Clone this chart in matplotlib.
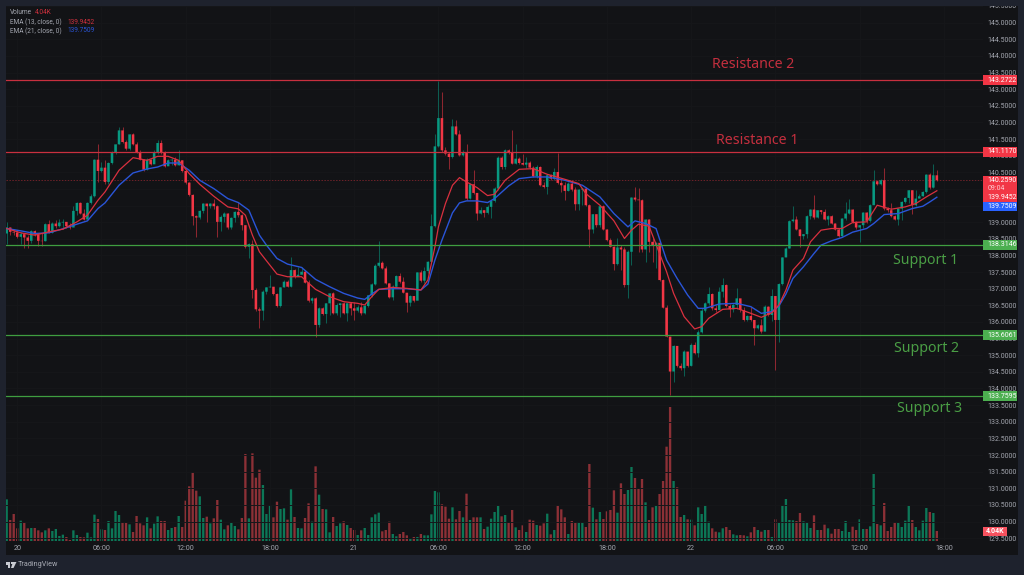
import numpy as np
import matplotlib
matplotlib.use('Agg')
import matplotlib.pyplot as plt
from matplotlib.patches import Rectangle, Polygon
from matplotlib.transforms import blended_transform_factory

W, H = 1024, 575

# 15 minute candles
close = [
    138.84,138.71,138.69,138.56,138.64,138.54,138.44,138.73,138.63,138.44,
    138.43,138.94,138.68,138.96,138.88,138.99,139.01,138.88,138.84,139.34,
    139.58,139.26,139.08,139.58,139.78,140.88,140.54,140.64,140.21,140.78,
    141.11,141.34,141.76,141.41,141.21,141.64,141.34,141.11,140.88,140.58,
    140.88,140.74,141.08,141.38,141.11,140.68,140.86,140.88,140.71,140.86,
    140.54,140.19,139.82,139.18,139.14,139.34,139.56,139.48,139.56,139.48,
    139.01,139.16,139.26,138.84,139.13,139.31,139.21,138.91,138.26,138.34,
    136.96,136.38,136.34,136.91,137.04,137.06,136.84,136.48,137.04,137.21,
    137.06,137.56,137.36,137.42,137.51,137.18,136.64,136.71,135.91,136.41,
    136.24,136.56,136.86,136.26,136.51,136.56,136.26,136.56,136.41,136.34,
    136.44,136.26,136.48,136.80,137.13,137.69,137.78,137.61,137.16,136.74,
    137.06,137.38,137.21,136.88,136.58,136.78,136.64,137.49,137.24,137.53,
    137.81,138.88,141.28,142.13,141.16,141.06,140.96,141.88,141.64,141.01,
    141.11,139.71,140.14,139.88,139.26,139.36,139.28,139.46,139.64,140.01,
    140.94,140.66,141.16,141.08,140.76,140.91,140.78,140.73,140.79,140.64,
    140.38,140.66,140.11,140.06,140.41,140.31,140.51,140.18,140.11,139.94,
    140.16,139.98,139.54,139.98,140.01,139.51,138.78,139.24,138.91,139.48,
    138.78,138.46,138.26,137.74,138.24,138.18,137.11,138.11,139.74,139.68,
    139.66,138.18,139.08,138.41,138.31,138.38,137.26,136.43,135.56,134.51,
    135.28,134.68,134.61,135.11,134.68,135.31,135.06,135.69,136.34,136.56,
    136.84,136.41,136.36,136.91,137.11,136.48,136.38,136.51,136.71,136.36,
    136.06,136.18,136.06,135.81,135.90,135.71,136.46,136.21,136.78,136.06,
    137.14,137.94,138.21,139.03,139.08,138.78,138.58,138.64,139.18,139.38,
    139.14,139.36,139.31,139.08,139.18,138.96,138.78,138.58,139.11,139.26,
    139.38,139.01,138.84,138.91,139.29,139.04,139.51,140.23,140.14,140.26,
    139.41,139.36,139.18,139.08,139.41,139.61,139.73,139.96,139.51,139.71,
    139.78,139.91,140.43,140.04,140.41,140.26,
]
high = [
    139.01,138.86,138.81,138.76,138.71,138.64,138.61,138.76,138.76,138.66,
    138.66,138.98,139.06,139.01,139.06,139.11,139.11,139.01,138.98,139.48,
    139.61,139.61,139.41,139.61,139.84,140.91,141.34,140.81,140.88,140.81,
    141.14,141.36,141.86,141.86,141.46,141.66,141.68,141.41,141.18,140.91,
    140.94,140.91,141.16,141.48,141.46,141.14,140.91,140.94,140.96,141.16,
    140.86,140.56,140.21,139.84,139.22,139.36,139.58,139.56,139.58,139.71,
    139.51,139.21,139.31,139.28,139.16,139.34,139.61,139.24,138.91,138.38,
    138.46,137.01,136.44,136.96,137.06,137.41,137.06,136.86,137.06,137.26,
    137.26,137.94,137.58,137.66,137.66,137.56,137.26,136.76,136.76,136.44,
    136.44,136.58,136.88,136.91,136.56,136.58,136.61,136.58,136.61,136.61,
    136.51,136.61,136.54,136.81,137.16,137.74,138.43,137.84,137.68,137.18,
    137.11,137.41,137.46,137.34,136.88,136.81,136.74,137.51,137.56,137.66,
    137.84,139.24,141.66,143.26,142.91,141.26,141.11,142.11,142.06,141.76,
    141.16,141.34,140.18,140.56,139.81,139.46,139.36,139.51,139.68,140.06,
    140.98,140.98,141.21,141.21,141.76,141.36,140.96,141.06,140.96,140.84,
    140.68,140.71,140.68,140.21,140.46,140.46,140.64,141.08,140.26,140.21,
    140.21,140.26,140.06,140.01,140.04,140.06,139.56,139.26,139.26,139.51,
    139.51,138.81,138.51,138.28,138.51,138.31,138.24,138.16,139.76,140.06,
    140.04,139.71,139.11,139.11,138.51,138.41,138.38,137.28,136.51,135.54,
    135.31,135.14,134.76,135.16,134.98,135.36,135.41,135.76,136.41,136.61,
    137.06,136.86,136.51,137.06,137.31,137.14,136.54,136.58,137.01,136.56,
    136.44,136.21,136.46,136.01,135.94,136.08,136.51,136.48,136.98,136.71,
    137.16,137.96,138.26,139.06,139.48,139.18,138.80,138.64,139.21,139.41,
    139.81,139.38,139.38,139.41,139.21,139.21,138.98,138.82,139.14,139.61,
    139.71,139.40,139.04,138.93,139.31,139.31,139.54,140.58,140.26,140.29,
    140.64,139.46,139.58,139.23,139.44,139.64,139.76,139.98,139.98,139.96,
    139.86,139.94,140.44,140.48,140.74,140.58,
]
low = [
    138.34,138.61,138.61,138.51,138.34,138.21,138.21,138.38,138.58,138.28,
    138.28,138.44,138.66,138.66,138.84,138.86,138.81,138.84,138.81,138.88,
    139.21,139.24,139.06,139.11,139.56,139.76,140.21,140.51,140.16,140.16,
    140.76,141.06,141.34,141.38,141.16,141.18,141.31,141.09,140.86,140.54,
    140.56,140.71,140.78,141.06,141.06,140.66,140.71,140.71,140.68,140.71,
    140.51,140.16,139.78,138.91,138.56,139.11,139.28,139.01,139.44,139.41,
    138.56,138.73,139.01,138.81,138.81,139.01,139.16,138.76,138.21,137.91,
    136.71,136.34,135.81,136.06,136.84,137.04,136.81,136.44,136.46,137.04,
    137.04,137.06,137.31,137.38,137.44,137.16,136.61,136.56,135.56,135.86,
    136.21,135.96,136.21,136.24,136.21,136.16,136.24,136.04,136.21,136.06,
    136.31,136.21,136.24,136.46,136.76,137.11,137.66,137.58,137.14,136.71,
    136.66,137.04,137.16,136.86,136.31,136.49,136.61,136.84,137.21,137.16,
    137.48,137.78,138.86,141.26,141.11,141.01,140.61,140.94,141.61,140.98,
    140.98,139.68,139.71,139.84,139.06,139.24,139.16,139.26,139.14,139.61,
    139.98,140.61,140.61,141.06,140.74,140.74,140.76,140.71,140.64,140.61,
    140.36,140.34,140.08,140.04,139.84,140.28,140.26,140.16,139.91,139.68,
    139.94,139.94,139.36,139.38,139.51,139.48,138.26,138.66,138.86,138.86,
    138.76,138.44,138.24,137.56,137.71,137.56,137.06,136.71,137.71,139.64,
    138.11,138.11,137.81,138.11,137.81,137.61,137.24,136.41,135.54,133.81,
    134.21,134.64,134.56,134.38,134.64,134.68,135.04,134.96,135.66,136.31,
    136.51,136.36,136.31,136.46,136.76,136.46,136.16,136.31,136.38,136.31,
    136.04,136.04,136.04,135.31,135.78,135.68,135.98,136.18,136.04,134.56,
    135.41,137.11,137.98,138.21,139.00,138.76,138.26,138.48,138.51,139.11,
    139.11,139.12,139.26,139.06,138.91,138.94,138.76,138.56,138.56,139.06,
    139.24,138.98,138.81,138.41,138.84,138.98,139.01,139.54,140.11,140.11,
    139.38,139.31,139.16,139.06,138.91,139.06,139.58,139.58,139.26,139.48,
    139.78,139.78,139.89,140.01,140.04,140.24,
]
first_open = 138.66

volume_read = [
    125,63,81,38,61,56,38,39,39,32,
    26,32,38,30,36,15,19,12,3,32,
    18,12,11,25,11,79,66,35,33,60,
    38,90,78,54,54,50,27,75,53,47,
    71,38,52,74,60,60,33,39,42,75,
    42,121,164,207,151,134,69,73,53,68,
    123,64,35,47,54,45,35,69,261,68,
    263,190,214,168,81,108,71,118,96,98,
    64,155,72,39,38,69,113,58,224,139,
    96,95,26,72,45,53,59,48,39,33,
    18,32,39,18,71,80,85,29,33,58,
    21,14,21,27,17,6,12,12,21,17,
    17,80,150,146,110,103,67,101,65,90,
    71,142,63,71,71,71,36,43,67,87,
    105,74,78,54,93,41,33,47,27,64,
    61,48,46,53,82,20,33,107,95,71,
    21,60,54,56,56,42,231,100,65,87,
    66,89,93,152,85,173,141,153,222,189,
    156,186,116,63,101,105,141,180,283,402,
    180,161,72,78,65,64,47,101,81,107,
    58,38,28,26,38,42,33,20,17,18,
    17,14,26,42,33,28,33,33,12,65,
    54,107,126,63,62,60,84,59,56,39,
    77,33,33,49,38,22,36,36,30,60,
    27,43,33,65,36,36,44,201,51,47,
    114,30,42,57,54,42,61,105,63,42,
    32,61,99,87,84,30,
]
volume_dir = (
    "GRRRGRRGRR" "RGRGGGGRRG" "GRRGGGRGRG" "GGGRRGRRRR" "GRGGRRGGRG"
    "RRRRRGGRGR" "RGGRGGRRRG" "RRRGGGRRGG" "RGRGGRRGRG" "RGGRGGRGRR"
    "GRGGGGGRRR" "GGRRRGRGRG" "GGGGRRRGRR" "GRGRRGRGGG" "GRGRRGRRGR"
    "RGRRGRGRRR" "GRRGGRRGRG" "RRRRGRRGGR" "RRGRRGRRRR" "GRRGRGRGGG"
    "GRRGGRRGGR" "RGRRGRGRGR" "GGGGGRRGGG" "RGRRGRRRGG" "GRRGGRGGRG"
    "RRRRGGGGRG" "GGGRGR"
)

# EMA lines, (bar, price) pairs
ema13_bar = [0,4,8,12,16,20,23,26,28,32,36,40,43,46,49,52,55,59,63,66,68,70,72,74,77,80,84,88,92,96,
             100,102,104,106,110,114,118,120,122,123,125,127,129,131,134,137,139,142,146,150,154,159,163,165,
             169,173,176,178,180,183,186,188,190,193,196,198,200,204,208,212,215,218,220,222,224,227,229,232,
             235,238,241,245,248,252,256,259,262,265]
ema13_val = [138.81,138.68,138.61,138.71,138.79,139.01,139.21,139.66,139.91,140.56,140.94,140.86,140.98,140.98,140.86,140.46,
             140.14,139.78,139.46,139.40,139.21,138.61,138.11,137.84,137.44,137.36,137.36,136.98,136.76,136.61,
             136.56,136.51,136.76,136.98,137.04,137.01,136.96,137.26,138.26,138.86,139.56,140.11,140.34,140.21,140.04,139.80,139.84,
             140.26,140.59,140.61,140.44,140.29,140.16,139.86,139.51,139.04,138.51,138.76,138.94,138.88,138.06,137.51,136.86,136.16,
             135.79,135.86,136.11,136.38,136.41,136.26,136.14,136.28,136.51,136.96,137.56,137.91,138.41,138.76,
             138.81,138.81,138.99,139.01,139.51,139.39,139.46,139.56,139.76,139.9452]
ema21_bar = [0,4,8,12,16,20,23,26,28,32,36,40,43,46,49,52,55,59,63,66,69,72,74,77,80,84,88,92,96,
             100,102,104,106,110,114,118,120,122,124,127,129,131,134,137,139,143,146,150,154,159,164,169,173,177,179,
             182,185,188,191,194,197,199,203,208,212,215,218,220,222,224,227,230,232,235,238,241,245,247,250,254,258,261,263,265]
ema21_val = [138.81,138.74,138.66,138.68,138.80,138.94,139.04,139.41,139.58,140.11,140.48,140.60,140.66,140.78,140.78,140.56,
             140.26,140.01,139.71,139.59,139.36,138.61,138.31,137.91,137.74,137.64,137.28,137.06,136.86,
             136.72,136.68,136.84,136.98,137.00,137.00,136.96,137.14,137.86,138.46,139.28,139.58,139.64,139.64,139.59,139.71,
             140.09,140.31,140.36,140.36,140.26,140.11,139.76,139.26,138.86,139.04,138.96,138.81,137.86,137.31,136.81,136.41,136.41,
             136.54,136.56,136.46,136.26,136.31,136.48,136.84,137.31,137.66,138.06,138.31,138.44,138.54,138.70,138.81,138.96,
             139.23,139.26,139.41,139.48,139.61,139.7509]

# drawn levels
resistance = [143.2722, 141.1170]
support = [138.3146, 135.6061, 133.7595]
last_price = 140.2590
price_ticks = [129.5 + 0.5 * n for n in range(33)]
time_tick_bars = [3, 27, 51, 75, 99, 123, 147, 171, 195, 219, 243, 267]
time_tick_labels = ['20', '06:00', '12:00', '18:00', '21', '06:00', '12:00', '18:00', '22', '06:00', '12:00', '18:00']

assert len(close) == len(high) == len(low) == len(volume_read) == len(volume_dir) == 266
assert len(ema13_bar) == len(ema13_val) and len(ema21_bar) == len(ema21_val)

OUTER = '#1e222d'
PANE = '#121316'
TXT = '#a3a6af'
UP = '#089981'
DOWN = '#f23645'
LINE_RED = '#c8303f'
LINE_GREEN = '#3f9e40'
LABEL_RED = '#c42f3e'
LABEL_GREEN = '#4a9e45'
BOX_GREEN = '#4caf50'
BLUE = '#2962ff'

plt.rcParams['font.family'] = ['Roboto', 'DejaVu Sans']


def px_rect(x0, y0, x1, y1):
    return [x0 / W, 1 - y1 / H, (x1 - x0) / W, (y1 - y0) / H]


fig = plt.figure(figsize=(W / 100, H / 100), dpi=100, facecolor=OUTER)

bg = fig.add_axes(px_rect(6, 6, 1018, 555), facecolor=PANE, zorder=0)
bg.set_xticks([])
bg.set_yticks([])
for s in bg.spines.values():
    s.set_visible(False)

# bars sit 3.51 px apart, first one at x=6.7
LEFT, RIGHT = 6, 983
xlim = ((LEFT - 6.7) / 3.51, (RIGHT - 6.7) / 3.51)

vol = fig.add_axes(px_rect(LEFT, 6, RIGHT, 541), facecolor='none', zorder=1)
volume = np.array(volume_read) / 7.43
bars = np.arange(len(close))
vol_colors = ['#0c7757' if d == 'G' else '#8c3036' for d in volume_dir]
vol.bar(bars, volume, width=0.66, color=vol_colors, linewidth=0, snap=False)
vol.set_xlim(xlim)
vol.set_ylim(0, 535 * 3 / 7.43)
vol.axis('off')

ax = fig.add_axes(px_rect(LEFT, 6, RIGHT, 541), facecolor='none', zorder=2)
ax.set_xlim(xlim)
ax.set_ylim(135 - 186 / 33.3, 135 + 349 / 33.3)
for s in ax.spines.values():
    s.set_visible(False)
ax.grid(True, color='#16171a', linewidth=0.7)
ax.set_axisbelow(True)

ax.yaxis.tick_right()
ax.set_yticks(price_ticks)
ax.set_yticklabels(['%.4f' % p for p in price_ticks])
ax.set_xticks(time_tick_bars)
ax.set_xticklabels(time_tick_labels)
ax.tick_params(axis='y', length=0, pad=3, labelsize=5, labelcolor=TXT)
ax.tick_params(axis='x', length=0, pad=3, labelsize=5.2, labelcolor=TXT)

# candles
close = np.array(close)
high = np.array(high)
low = np.array(low)
open_ = np.r_[first_open, close[:-1]]
up = close >= open_
colors = np.where(up, UP, DOWN)
ax.vlines(bars, low, high, colors=colors, linewidth=0.75, alpha=0.55, zorder=3)
ax.bar(bars, np.abs(close - open_), bottom=np.minimum(open_, close), width=0.72,
       color=colors, linewidth=0, snap=False, zorder=3.2)

# EMAs
ax.plot(ema21_bar, ema21_val, color='#2a55d8', linewidth=1.0, zorder=4)
ax.plot(ema13_bar, ema13_val, color='#d9303f', linewidth=0.9, zorder=4.1)

# levels
for level in resistance:
    ax.axhline(level, color=LINE_RED, linewidth=0.9, zorder=4.5)
for level in support:
    ax.axhline(level, color=LINE_GREEN, linewidth=0.9, zorder=4.5)
ax.axhline(last_price, color='#6e2229', linewidth=0.7, linestyle=(0, (1.5, 1.5)), zorder=2.8)

# level names
label_font = dict(family='Noto Sans', fontsize=10.2, ha='center', va='center', zorder=5)
fig.text(753.5 / W, 1 - 65 / H, 'Resistance 2', color=LABEL_RED, **label_font)
fig.text(757 / W, 1 - 141 / H, 'Resistance 1', color=LABEL_RED, **label_font)
fig.text(926 / W, 1 - 260 / H, 'Support 1', color=LABEL_GREEN, **label_font)
fig.text(926 / W, 1 - 348 / H, 'Support 2', color=LABEL_GREEN, **label_font)
fig.text(930 / W, 1 - 409 / H, 'Support 3', color=LABEL_GREEN, **label_font)

# price scale boxes
blend = blended_transform_factory(ax.transAxes, ax.transData)
box_x = 1.0003
box_w = 33.5 / (RIGHT - LEFT)


def price_box(price_lo, price_hi, color):
    ax.add_patch(Rectangle((box_x, price_lo), box_w, price_hi - price_lo, transform=blend,
                           facecolor=color, edgecolor='none', clip_on=False, zorder=6))


def box_text(price, text, color='white'):
    ax.text(box_x + 4 / (RIGHT - LEFT), price, text, transform=blend, color=color, fontsize=5,
            va='center', ha='left', clip_on=False, zorder=7)


for level in resistance:
    price_box(level - 0.15, level + 0.15, DOWN)
    box_text(level, '%.4f' % level)
for level in support:
    price_box(level - 0.15, level + 0.15, BOX_GREEN)
    box_text(level, '%.4f' % level)

# the scale pushes these tags apart, so their rows are not at their prices
price_box(139.62, 140.38, DOWN)
box_text(last_price, '%.4f' % last_price)
box_text(140.015, '09:04', '#ffc9ce')
box_text(139.745, '139.9452')
price_box(139.34, 139.60, BLUE)
box_text(139.47, '139.7509')

# volume tag
vblend = blended_transform_factory(vol.transAxes, vol.transData)
vol.add_patch(Rectangle((box_x, 2.14), 24 / (RIGHT - LEFT), 3.63, transform=vblend,
                        facecolor='#f7525f', edgecolor='none', clip_on=False, zorder=6))
vol.text(box_x + 12 / (RIGHT - LEFT), 3.96, '4.04K', transform=vblend, color='white', fontsize=5,
         fontweight='bold', ha='center', va='center', clip_on=False, zorder=7)

# legend top left
fig.text(10 / W, 1 - 13 / H, 'Volume', color=TXT, fontsize=4.7, va='center')
fig.text(35 / W, 1 - 13 / H, '4.04K', color=DOWN, fontsize=4.7, va='center', alpha=0.85)
fig.text(10 / W, 1 - 22 / H, 'EMA (13, close, 0)', color=TXT, fontsize=4.7, va='center')
fig.text(67 / W, 1 - 22 / H, '139.9452', color=DOWN, fontsize=4.7, va='center', alpha=0.85)
fig.text(10 / W, 1 - 31 / H, 'EMA (21, close, 0)', color=TXT, fontsize=4.7, va='center')
fig.text(67 / W, 1 - 31 / H, '139.7509', color='#2a55d8', fontsize=4.7, va='center')

# strip over the cut off tick label, plus the footer logo
fig.add_artist(Rectangle((0, 1 - 6 / H), 1, 6 / H, transform=fig.transFigure, facecolor=OUTER,
                         edgecolor='none', zorder=20))
logo = '#c9ccd3'
fig.add_artist(Polygon([(5.5 / W, 1 - 562 / H), (10 / W, 1 - 562 / H), (10 / W, 1 - 568 / H),
                        (7.5 / W, 1 - 568 / H), (7.5 / W, 1 - 564.5 / H), (5.5 / W, 1 - 564.5 / H)],
                       transform=fig.transFigure, facecolor=logo, edgecolor='none', zorder=20))
fig.add_artist(Rectangle((10.8 / W, 1 - 564 / H), 1.7 / W, 2 / H, transform=fig.transFigure,
                         facecolor=logo, edgecolor='none', zorder=20))
fig.add_artist(Polygon([(13 / W, 1 - 562 / H), (16.5 / W, 1 - 562 / H), (13.5 / W, 1 - 568 / H),
                        (11 / W, 1 - 568 / H)],
                       transform=fig.transFigure, facecolor=logo, edgecolor='none', zorder=20))
fig.text(18 / W, 1 - 565 / H, 'TradingView', color='#a9acb5', fontsize=5.2, va='center')

fig.savefig('out.png', dpi=100, facecolor=OUTER)
